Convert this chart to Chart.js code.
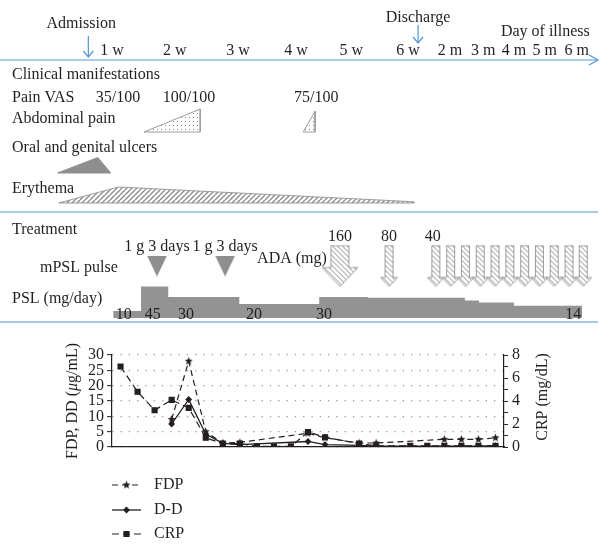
<!DOCTYPE html>
<html>
<head>
<meta charset="utf-8">
<script src="https://cdn.jsdelivr.net/npm/chart.js@4.4.1/dist/chart.umd.min.js"></script>
<style>
  body { margin: 0; background: #fff; }
  #wrap { position: relative; width: 611px; height: 548px; }
  #top { position: absolute; left: 0; top: 0; }
  #bottom { position: absolute; left: 0; top: 330px; }
</style>
</head>
<body>
<div id="wrap">
  <canvas id="top" width="611" height="330"></canvas>
  <canvas id="bottom" width="611" height="218"></canvas>
</div>
<script>
// ---- timeline data (x = weeks from onset, months squeezed on the right as in the figure)
const tickWeeks  = [1, 2.06, 3.13, 4.11, 5.04, 6, 6.71, 7.27, 7.79, 8.31, 8.85];
const tickLabels = ['1 w', '2 w', '3 w', '4 w', '5 w', '6 w', '2 m', '3 m', '4 m', '5 m', '6 m'];
const admissionWk = 0.6;
const dischargeWk = 6.17;

const painVAS   = ['35/100', '100/100', '75/100'];
const painVASWk = [1.1, 2.3, 4.45];

// symptom profiles: [week, relative intensity]
const abdominalPain = [
  [[1.54, 0], [2.49, 1], [2.49, 0]],
  [[4.23, 0], [4.43, 0.9], [4.43, 0]]
];
const ulcers   = [[0.08, 0], [0.76, 1], [0.98, 0]];
const erythema = [[0.1, 0], [1.11, 1], [6.09, 0.08], [6.1, 0]];

// treatment
const mpslWk = [1.76, 2.91];
const mpslText = '1 g 3 days';
const adaWk   = [4.85, 5.68, 6.47, 6.72, 6.97, 7.22, 7.47, 7.72, 7.97, 8.22, 8.47, 8.72, 8.96];
const adaDose = [160, 80, 40, 40, 40, 40, 40, 40, 40, 40, 40, 40, 40];
const pslStartWk = [1.02, 1.49, 1.95, 3.15, 4.5, 5.32, 6.96, 7.2, 7.79];
const pslEndWk = 8.94;
const pslDose = [10, 45, 30, 20, 30, 29, 25, 22, 17.5];
const pslLabelWk  = [1.2, 1.69, 2.25, 3.4, 4.58, 8.79];
const pslLabelTxt = ['10', '45', '30', '20', '30', '14'];

// ---- laboratory data (23 sampling points)
const visits = new Array(23).fill('');
const fdp = [null, null, null, 9, 28, 5, 1.3, 1.5, null, null, null, 4.5, 3, null, 1.3, 1.3, null, null, null, 2.5, 2.5, 2.5, 3];
const dd  = [null, null, null, 7.5, 15.5, 4.2, 1.2, 0.8, null, null, null, 1.8, 0.8, null, 0.5, 0.3, null, null, null, 0.3, 0.3, 0.3, 0.4];
const crp = [7.0, 4.8, 3.2, 4.1, 3.4, 0.8, 0.3, 0.3, 0.05, 0.05, 0.05, 1.3, 0.85, null, 0.3, 0.1, null, 0.1, 0.1, 0.1, 0.1, 0.1, 0.1];

const FONT = '"Liberation Serif", "Times New Roman", serif';
const INK = '#231f20';
const BLUE = '#5596d2';
const GREY = '#8e8e8e';
const EDGE = '#9c9c9c';

// week scale spanning the whole top canvas
const XMIN = -0.892, XMAX = 9.429, XEND = 9.21;
const PPW = 611 / (XMAX - XMIN);
const wk = px => px / PPW;

// row positions (vertical layout of the schematic)
const ROW = {
  admission: 22, discharge: 16, illness: 30, ticks: 49, line: 60,
  clinical: 73, vas: 96, abd: 117, abdBase: 132, abdH: 23,
  ulcer: 146, ulcerBase: 173, ulcerH: 15.5, ery: 187, eryBase: 203, eryH: 16,
  sep1: 212, treat: 228, dose: 235, mpsl: 245, ada: 257, mark: 266, pulse: 266,
  psl: 297, pslLbl: 313, sep2: 322
};
const TEXT_DY = 2;

// ---- patterns and marker images
function tile(size, draw) {
  const c = document.createElement('canvas');
  c.width = c.height = size;
  const g = c.getContext('2d');
  g.fillStyle = '#fff';
  g.fillRect(0, 0, size, size);
  draw(g, size);
  return g.createPattern(c, 'repeat');
}
const dots = tile(4, g => { g.fillStyle = '#8a8a8a'; g.fillRect(1, 1, 1, 1); });
function hatch(size, forward, width) {
  return tile(size, (g, s) => {
    g.strokeStyle = '#8a8a8a';
    g.lineWidth = width;
    g.beginPath();
    for (let k = -1; k <= 1; k++) {
      if (forward) { g.moveTo(k * s, s); g.lineTo(k * s + s, 0); }
      else { g.moveTo(k * s, 0); g.lineTo(k * s + s, s); }
    }
    g.stroke();
  });
}
const slash = hatch(5, true, 1.4);
const backslash = hatch(5, false, 1);

function arrowImg(shaftW, headW, headLen, h) {
  const c = document.createElement('canvas');
  c.width = headW + 2; c.height = h + 2;
  const g = c.getContext('2d');
  const cx = c.width / 2, hy = 1 + h - headLen;
  g.beginPath();
  g.moveTo(cx - shaftW / 2, 1); g.lineTo(cx + shaftW / 2, 1);
  g.lineTo(cx + shaftW / 2, hy); g.lineTo(cx + headW / 2, hy);
  g.lineTo(cx, 1 + h); g.lineTo(cx - headW / 2, hy);
  g.lineTo(cx - shaftW / 2, hy); g.closePath();
  g.fillStyle = backslash; g.fill();
  g.strokeStyle = EDGE; g.lineWidth = 1; g.stroke();
  return c;
}
const bigArrow = arrowImg(18, 36, 19, 41);
const smallArrow = arrowImg(8, 17, 9, 41);

function downTriangle(w, h) {
  const c = document.createElement('canvas');
  c.width = w; c.height = h;
  const g = c.getContext('2d');
  g.beginPath(); g.moveTo(0, 0); g.lineTo(w, 0); g.lineTo(w / 2, h); g.closePath();
  g.fillStyle = GREY; g.fill();
  return c;
}
const pulseMark = downTriangle(20, 21);

function starImg(r) {
  const c = document.createElement('canvas');
  c.width = c.height = Math.ceil(r * 2 + 2);
  const g = c.getContext('2d');
  const m = c.width / 2;
  g.beginPath();
  for (let k = 0; k < 10; k++) {
    const a = -Math.PI / 2 + k * Math.PI / 5;
    const rr = k % 2 ? r * 0.45 : r;
    g.lineTo(m + rr * Math.cos(a), m + rr * Math.sin(a));
  }
  g.closePath(); g.fillStyle = INK; g.fill();
  return c;
}
const star = starImg(4.2);

// ---- top chart datasets
function seg(points, color, width) {
  return { data: points.map(p => ({ x: p[0], y: p[1] })), borderColor: color, borderWidth: width,
           pointRadius: 0, fill: false, yAxisID: 'row', tension: 0 };
}
function shape(profile, base, h, bg, edge) {
  const pts = profile.concat([profile[0]]);
  return { data: pts.map(p => ({ x: p[0], y: base - p[1] * h })), fill: 'shape', backgroundColor: bg,
           borderColor: edge, borderWidth: 1, pointRadius: 0, yAxisID: 'row', tension: 0 };
}
function chevronDown(x, y) { return [[x - wk(5), y - 6], [x, y], [x + wk(5), y - 6]]; }

const pslPoints = [];
pslDose.forEach((d, i) => {
  const end = i + 1 < pslStartWk.length ? pslStartWk[i + 1] : pslEndWk;
  pslPoints.push({ x: pslStartWk[i], y: d }, { x: end, y: d });
});

const topSets = [
  seg([[XMIN, ROW.line], [XEND, ROW.line]], BLUE, 1.2),
  seg([[XEND - wk(9), ROW.line - 5], [XEND, ROW.line], [XEND - wk(9), ROW.line + 5]], BLUE, 1.2),
  seg([[XMIN, ROW.sep1], [XEND, ROW.sep1]], BLUE, 1.2),
  seg([[XMIN, ROW.sep2], [XEND, ROW.sep2]], BLUE, 1.2),
  seg([[admissionWk, 36], [admissionWk, 57]], BLUE, 1.2),
  seg(chevronDown(admissionWk, 57), BLUE, 1.2),
  seg([[dischargeWk, 25], [dischargeWk, 43]], BLUE, 1.2),
  seg(chevronDown(dischargeWk, 43), BLUE, 1.2),
  ...abdominalPain.map(p => shape(p, ROW.abdBase, ROW.abdH, dots, EDGE)),
  shape(ulcers, ROW.ulcerBase, ROW.ulcerH, GREY, GREY),
  shape(erythema, ROW.eryBase, ROW.eryH, slash, EDGE),
  { data: mpslWk.map(x => ({ x, y: ROW.mark })), showLine: false, pointStyle: pulseMark, pointRadius: 1, yAxisID: 'row' },
  { data: adaWk.map(x => ({ x, y: ROW.mark })), showLine: false, pointRadius: 1, yAxisID: 'row',
    pointStyle: adaDose.map(d => d >= 160 ? bigArrow : smallArrow) },
  { data: pslPoints, yAxisID: 'dose', fill: 'origin', backgroundColor: '#939393', borderWidth: 0, pointRadius: 0, tension: 0 }
];

// text items: x in weeks, or px for the left column
const texts = [
  { t: 'Admission', x: 0.48, y: ROW.admission },
  { t: 'Discharge', x: dischargeWk, y: ROW.discharge },
  { t: 'Day of illness', x: 8.32, y: ROW.illness },
  { t: 'Clinical manifestations', px: 12, y: ROW.clinical },
  { t: 'Pain VAS', px: 12, y: ROW.vas },
  { t: 'Abdominal pain', px: 12, y: ROW.abd },
  { t: 'Oral and genital ulcers', px: 12, y: ROW.ulcer },
  { t: 'Erythema', px: 12, y: ROW.ery },
  { t: 'Treatment', px: 12, y: ROW.treat },
  { t: 'mPSL pulse', px: 40, y: ROW.pulse },
  { t: 'PSL (mg/day)', px: 12, y: ROW.psl },
  { t: 'ADA (mg)', x: 4.04, y: ROW.ada }
];
tickWeeks.forEach((x, i) => texts.push({ t: tickLabels[i], x, y: ROW.ticks }));
painVASWk.forEach((x, i) => texts.push({ t: painVAS[i], x, y: ROW.vas }));
mpslWk.forEach(x => texts.push({ t: mpslText, x, y: ROW.mpsl }));
adaDose.forEach((d, i) => { if (i === 0 || adaDose[i - 1] !== d) texts.push({ t: String(d), x: adaWk[i] - (d === 40 ? 0.05 : 0), y: ROW.dose }); });
pslLabelWk.forEach((x, i) => texts.push({ t: pslLabelTxt[i], x, y: ROW.pslLbl }));

const textPlugin = {
  id: 'schemeText',
  afterDatasetsDraw(chart) {
    const { ctx, scales: { x, row } } = chart;
    ctx.save();
    ctx.fillStyle = INK;
    ctx.font = '16px ' + FONT;
    ctx.textBaseline = 'middle';
    texts.forEach(it => {
      ctx.textAlign = it.px !== undefined ? 'left' : 'center';
      const px = it.px !== undefined ? it.px : x.getPixelForValue(it.x);
      ctx.fillText(it.t, px, row.getPixelForValue(it.y) + TEXT_DY);
    });
    ctx.restore();
  }
};

new Chart(document.getElementById('top'), {
  type: 'line',
  data: { datasets: topSets },
  options: {
    responsive: false, animation: false, devicePixelRatio: 1,
    layout: { padding: 0, autoPadding: false },
    plugins: { legend: { display: false }, tooltip: { enabled: false } },
    scales: {
      x: { type: 'linear', axis: 'x', min: XMIN, max: XMAX, display: false },
      row: { type: 'linear', axis: 'y', position: 'left', min: 0, max: 330, reverse: true, display: false },
      dose: { type: 'linear', axis: 'y', position: 'left', min: -17.14, max: 454.3, display: false }
    }
  },
  plugins: [textPlugin]
});

// ---- bottom chart
const legendY = [155, 180, 204];
const labPlugin = {
  id: 'labExtras',
  afterDraw(chart) {
    const ctx = chart.ctx;
    ctx.save();
    ctx.fillStyle = INK;
    ctx.font = '16px ' + FONT;
    ctx.textBaseline = 'middle';
    // left axis title with italic mu
    const parts = [['FDP, DD (', ''], ['\u03bc', 'italic '], ['g/mL)', '']];
    ctx.save();
    ctx.translate(73, 71);
    ctx.rotate(-Math.PI / 2);
    let total = 0;
    parts.forEach(p => { ctx.font = p[1] + '16px ' + FONT; total += ctx.measureText(p[0]).width; });
    let cx = -total / 2;
    ctx.textAlign = 'left';
    parts.forEach(p => { ctx.font = p[1] + '16px ' + FONT; ctx.fillText(p[0], cx, 0); cx += ctx.measureText(p[0]).width; });
    ctx.restore();
    // right axis title
    ctx.save();
    ctx.translate(543, 67);
    ctx.rotate(-Math.PI / 2);
    ctx.textAlign = 'center';
    ctx.fillText('CRP (mg/dL)', 0, 0);
    ctx.restore();
    // legend
    ctx.beginPath(); ctx.rect(0, 0, chart.width, 209); ctx.clip();
    chart.data.datasets.forEach((ds, i) => {
      const y = legendY[i];
      ctx.strokeStyle = INK;
      ctx.lineWidth = ds.borderWidth;
      ctx.setLineDash(ds.borderDash || []);
      ctx.beginPath(); ctx.moveTo(112, y); ctx.lineTo(141, y); ctx.stroke();
      ctx.setLineDash([]);
      ctx.fillStyle = INK;
      Chart.helpers.drawPoint(ctx, { pointStyle: ds.pointStyle, radius: ds.pointRadius, borderWidth: 1, rotation: 0 }, 126.5, y);
      ctx.textAlign = 'left';
      ctx.fillText(ds.label, 154, y);
    });
    ctx.restore();
  }
};

new Chart(document.getElementById('bottom'), {
  type: 'line',
  data: {
    labels: visits,
    datasets: [
      { label: 'FDP', data: fdp, yAxisID: 'y', borderColor: INK, borderWidth: 1.2, borderDash: [6, 4],
        pointStyle: star, pointRadius: 4, spanGaps: true, tension: 0 },
      { label: 'D-D', data: dd, yAxisID: 'y', borderColor: INK, borderWidth: 1.3,
        pointStyle: 'rectRot', pointRadius: 2.5, pointBackgroundColor: INK, pointBorderColor: INK, spanGaps: true, tension: 0 },
      { label: 'CRP', data: crp, yAxisID: 'y1', borderColor: INK, borderWidth: 1.2, borderDash: [7, 4],
        pointStyle: 'rect', pointRadius: 3.5, pointBackgroundColor: INK, pointBorderColor: INK, spanGaps: true, tension: 0 }
    ]
  },
  options: {
    responsive: false, animation: false, devicePixelRatio: 1,
    layout: { padding: { top: 25, left: 0, right: 0, bottom: 0 }, autoPadding: false },
    plugins: { legend: { display: false }, tooltip: { enabled: false } },
    scales: {
      x: { offset: true, grid: { display: false }, ticks: { display: false },
           border: { color: INK, width: 1.2 }, afterFit(s) { s.height = 101; } },
      y: { position: 'left', min: 0, max: 30,
           ticks: { stepSize: 5, autoSkip: false, color: INK, font: { family: FONT, size: 16 }, padding: 3 },
           grid: { color: '#9a9a9a', lineWidth: 1.3, tickColor: INK, tickLength: 5, tickWidth: 1 },
           border: { color: INK, width: 1.2, dash: [1.3, 7] },
           afterFit(s) { s.width = 112; } },
      y1: { position: 'right', min: 0, max: 8,
            ticks: { stepSize: 1, autoSkip: false, color: INK, font: { family: FONT, size: 16 }, padding: 4,
                     callback: v => v % 2 === 0 ? v : '' },
            grid: { drawOnChartArea: false, tickColor: INK, tickLength: 4, tickWidth: 1 },
            border: { color: INK, width: 1.2 },
            afterFit(s) { s.width = 107; } }
    }
  },
  plugins: [labPlugin]
});
</script>
</body>
</html>
